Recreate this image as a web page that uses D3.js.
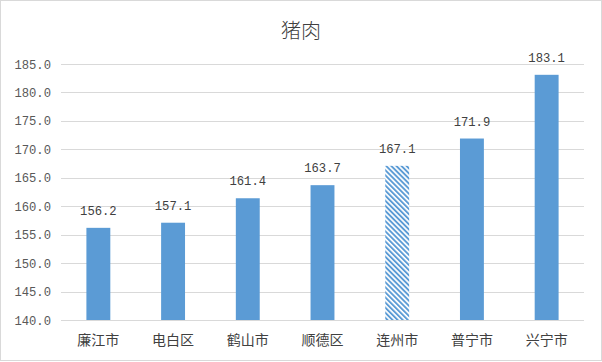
<!DOCTYPE html>
<html lang="zh-CN"><head><meta charset="utf-8">
<script src="https://cdn.jsdelivr.net/npm/d3@7"></script>
<style>body{margin:0;background:#fff}svg{display:block}</style>
</head><body>
<script>
const categories = ["廉江市","电白区","鹤山市","顺德区","连州市","普宁市","兴宁市"];
const values = [156.2,157.1,161.4,163.7,167.1,171.9,183.1];
const hatched = ["连州市"];
const yTicks = [140,145,150,155,160,165,170,175,180,185];
const title = "猪肉";

const W=602,H=362;
const svg=d3.select("body").append("svg").attr("width",W).attr("height",H);
svg.append("rect").attr("x",0.5).attr("y",0.5).attr("width",W-1).attr("height",H-2)
  .attr("fill","#fff").attr("stroke","#D9D9D9");

const defs=svg.append("defs");
const pat=defs.append("pattern").attr("id","hatch").attr("patternUnits","userSpaceOnUse")
  .attr("width",3.6).attr("height",3.6).attr("patternTransform","rotate(-45)");
pat.append("rect").attr("width",3.6).attr("height",3.6).attr("fill","#fff");
pat.append("rect").attr("width",1.9).attr("height",3.6).attr("fill","#5B9BD5");

const x=d3.scaleBand().domain(categories).range([61,584]).paddingInner(0.68).paddingOuter(0.34);
const y=d3.scaleLinear().domain([140,185]).range([320,64]);

const font="'Liberation Mono', monospace";
const cjk="'Noto Sans CJK SC', sans-serif";

svg.append("g").selectAll("line").data(yTicks).join("line")
  .attr("x1",61).attr("x2",584).attr("y1",d=>Math.round(y(d))+0.5).attr("y2",d=>Math.round(y(d))+0.5)
  .attr("stroke","#D9D9D9").attr("stroke-width",1);

svg.append("g").selectAll("text").data(yTicks).join("text")
  .attr("x",51).attr("y",d=>y(d)+4.5).attr("text-anchor","end")
  .attr("font-family",font).attr("font-size",12.2).attr("fill","#595959")
  .text(d=>d.toFixed(1));

svg.append("g").selectAll("rect").data(categories).join("rect")
  .attr("x",d=>x(d)).attr("width",x.bandwidth())
  .attr("y",(d,i)=>y(values[i])).attr("height",(d,i)=>y(140)-y(values[i]))
  .attr("fill",d=>hatched.includes(d)?"url(#hatch)":"#5B9BD5");

svg.append("g").selectAll("text").data(categories).join("text")
  .attr("x",d=>x(d)+x.bandwidth()/2).attr("y",(d,i)=>y(values[i])-13)
  .attr("text-anchor","middle").attr("font-family",font).attr("font-size",12.2).attr("fill","#404040")
  .text((d,i)=>values[i].toFixed(1));

svg.append("line").attr("x1",61).attr("x2",584).attr("y1",320.5).attr("y2",320.5)
  .attr("stroke","#D9D9D9");

svg.append("g").selectAll("text").data(categories).join("text")
  .attr("x",d=>x(d)+x.bandwidth()/2).attr("y",345)
  .attr("text-anchor","middle").attr("font-family",cjk).attr("font-size",14).attr("fill","#404040")
  .text(d=>d);

svg.append("text").attr("x",301).attr("y",38).attr("text-anchor","middle")
  .attr("font-family",cjk).attr("font-weight",300).attr("font-size",20).attr("fill","#404040").text(title);
</script>
</body></html>
